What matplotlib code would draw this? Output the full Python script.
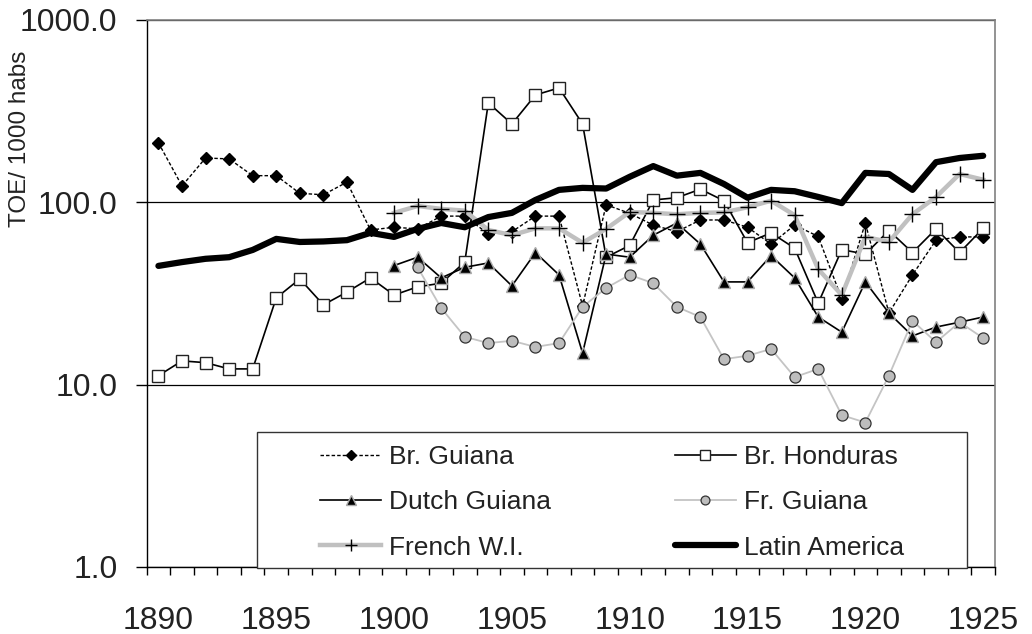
import matplotlib
matplotlib.use("Agg")
import matplotlib.pyplot as plt
import numpy as np
from matplotlib.patches import Rectangle
from matplotlib.ticker import FixedLocator, NullLocator

plt.rcParams['font.family'] = ['Liberation Sans', 'DejaVu Sans']

# data (TOE per 1000 inhabitants)
years = np.arange(1890, 1926)
nan = np.nan

br_guiana = [212, 123, 175, 173, 140, 140, 112, 110, 129, 70.5,
             73, 71.5, 84, 84, 67, 69, 84, 84, 27, 97,
             87, 75, 69, 80, 80, 73, 59, 75, 65, 29.5,
             77, 24.7, 40, 62, 64.6, 64.6]
br_honduras = [11.2, 13.5, 13.2, 12.2, 12.2, 29.9, 38, 27.4, 32.2, 38.5,
               31, 34.4, 36, 47, 351, 269, 388, 424, 269, 50,
               58, 103, 106, 118, 102, 60, 68, 56, 28, 55,
               52, 70, 53, 71.5, 53, 72]
dutch_guiana = [nan] * 10 + [45, 50, 38.5, 44, 46.5, 34.8, 53, 40, 14.9, 52,
                             50, 66, 77, 59, 36.6, 36.6, 51, 38.5, 23.5, 19.4,
                             36.6, 24.7, 18.5, 20.7, 22, 23.5]
fr_guiana = [nan] * 11 + [44, 26.3, 18.3, 16.9, 17.4, 16.1, 16.9, 26.7, 33.9,
                          40, 36, 26.7, 23.5, 13.8, 14.4, 15.7, 11.0, 12.2, 6.8,
                          6.2, 11.2, 22.4, 17.1, 22, 18.0]
french_wi = [nan] * 10 + [87.5, 95.5, 92, 90, 70.5, 66, 72, 72, 60, 71.5,
                          88.5, 87.5, 86, 87.5, 88, 94, 102, 85, 43, 31,
                          64.6, 60.6, 86, 107, 143, 133]
latin_america = [44.8, 47, 49, 50, 54.8, 63, 60.6, 61, 62, 68,
                 64.6, 71.5, 77, 73, 83, 87.5, 103, 117, 120, 119,
                 138, 158, 140, 145, 126, 106, 117, 115, 107, 99,
                 145, 143, 117, 166, 175, 180]

label_years = [1890, 1895, 1900, 1905, 1910, 1915, 1920, 1925]
y_ticks = [1, 10, 100, 1000]
y_labels = ["1.0", "10.0", "100.0", "1000.0"]

fig = plt.figure(figsize=(10.32, 6.34), dpi=100)
ax = fig.add_axes([0.1421, 0.1057, 0.8220, 0.8628])

l1, = ax.plot(years, br_guiana, color='black', lw=1, linestyle=(0, (2.5, 1.5)),
              marker='D', ms=6.5, mfc='black', mec='black', label='Br. Guiana')
l2, = ax.plot(years, br_honduras, color='black', lw=1.2,
              marker='s', ms=8.5, mfc='white', mec='#222222', mew=1, label='Br. Honduras')
l3, = ax.plot(years, dutch_guiana, color='black', lw=1.2,
              marker='^', ms=8.5, mfc='black', mec='#aaaaaa', mew=1, label='Dutch Guiana')
l4, = ax.plot(years, fr_guiana, color='#c4c4c4', lw=1.3,
              marker='o', ms=8, mfc='#bdbdbd', mec='#333333', mew=0.9, label='Fr. Guiana')
l5, = ax.plot(years, french_wi, color='#c0c0c0', lw=3.2,
              marker='+', ms=11, mec='black', mew=1, label='French W.I.')
l6, = ax.plot(years, latin_america, color='black', lw=4.5,
              solid_capstyle='round', label='Latin America')

ax.set_yscale('log')
ax.set_ylim(1, 1000)
ax.set_xlim(1889.5, 1925.5)

ax.yaxis.set_major_locator(FixedLocator(y_ticks))
ax.yaxis.set_minor_locator(NullLocator())
ax.set_yticklabels(y_labels)
ax.tick_params(axis='y', which='major', length=8, width=1, direction='out',
               labelsize=23, pad=13, colors='black', labelcolor='#222222')

ax.set_xticks(label_years)
ax.set_xticklabels([str(y) for y in label_years])
ax.xaxis.set_minor_locator(FixedLocator(np.arange(1889.5, 1926, 1)))
ax.tick_params(axis='x', which='major', length=0, labelsize=23, pad=28,
               labelcolor='#222222')
ax.tick_params(axis='x', which='minor', length=6, width=1, direction='out')

ax.grid(True, axis='y', which='major', color='black', lw=0.9)
ax.set_axisbelow(True)
for side in ['left', 'bottom']:
    ax.spines[side].set_color('black')
    ax.spines[side].set_linewidth(1)
for side in ['top', 'right']:
    ax.spines[side].set_color('#808080')
    ax.spines[side].set_linewidth(1.2)

fig.text(0.019, 1 - 139 / 634, 'TOE/ 1000 habs', rotation=90,
         ha='center', va='center', fontsize=17.5, color='#222222')

# legend box drawn separately to get the wide side padding
box = Rectangle((0.130, -0.002), 0.837, 0.2486, transform=ax.transAxes,
                facecolor='white', edgecolor='#333333', lw=1, zorder=4, clip_on=False)
ax.add_patch(box)
handles = [l1, l3, l5, l2, l4, l6]
leg = ax.legend(handles=handles, ncol=2, loc='center', bbox_to_anchor=(0.5485, 0.118),
                frameon=False, fontsize=19, handlelength=2.3, handletextpad=0.3,
                columnspacing=4.7, labelspacing=0.8, markerscale=0.8)
leg.set_zorder(5)
for t in leg.get_texts():
    t.set_color('#222222')

fig.savefig('out.png', dpi=100)
